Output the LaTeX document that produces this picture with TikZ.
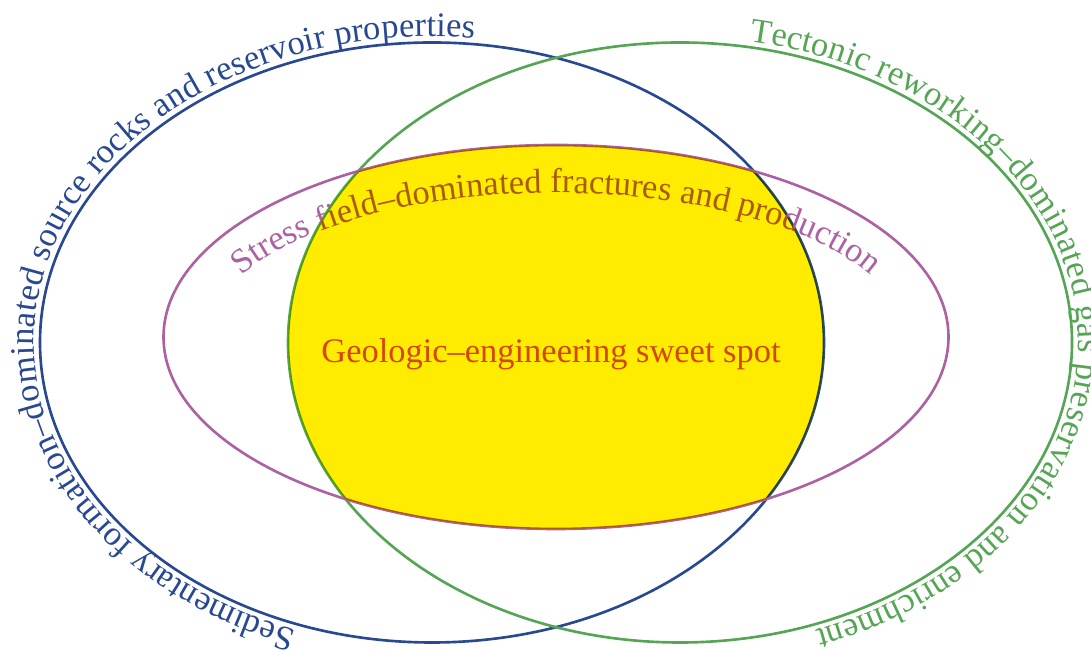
\documentclass[tikz,border=0pt]{standalone}
\usepackage{fontspec}
\setmainfont{Liberation Serif}
\usetikzlibrary{decorations.text}

\definecolor{sedblue}{RGB}{40,72,145}
\definecolor{tecgreen}{RGB}{85,165,85}
\definecolor{strpurple}{RGB}{172,98,162}
\definecolor{sweetyellow}{RGB}{255,236,0}
\definecolor{sweetred}{RGB}{215,70,0}

\begin{document}
\begin{tikzpicture}[
	ring/.style = {line width=1.5pt},
	rimtext/.style = {decorate, decoration={text along path, text align=left, raise=#1}},
	bigfont/.style = {font=\fontsize{19.6}{24}\selectfont}]
	
	\useasboundingbox (0,0) rectangle (21.82,13);
	
	% Centres of the three sets
	\coordinate (sed) at (8.64,6.15);
	\coordinate (tec) at (13.6,6.15);
	\coordinate (str) at (11.12,6.26);
	
	% The three sets
	\draw[sedblue, ring] (sed) ellipse (7.84cm and 6cm);
	\draw[tecgreen, ring] (tec) ellipse (7.84cm and 6cm);
	\draw[strpurple, ring] (str) ellipse (7.85cm and 3.84cm);
	
	% Labels along the rims
	\path[rimtext=0.12cm, decoration={text color=sedblue,
		text={|\fontsize{19.6}{24}\selectfont|Sedimentary formation–dominated source rocks and reservoir properties}}]
		(sed) ++(250:7.84cm and 6cm) arc [start angle=250, end angle=50, x radius=7.84cm, y radius=6cm];
	
	\path[rimtext=0.12cm, decoration={text color=tecgreen,
		text={|\fontsize{19.6}{24}\selectfont|Tectonic reworking–dominated gas preservation and enrichment}}]
		(tec) ++(80:7.84cm and 6cm) arc [start angle=80, end angle=-120, x radius=7.84cm, y radius=6cm];
	
	% inner label runs on a flatter ellipse just inside the rim
	\path[rimtext=0pt, decoration={text color=strpurple, text align=center,
		text={|\fontsize{19.6}{24}\selectfont|Stress field–dominated fractures and production}}]
		(str) ++(180:6.95cm and 2.88cm) arc [start angle=180, end angle=0, x radius=6.95cm, y radius=2.88cm];
	
	% Sweet spot: where all three sets meet
	\begin{scope}[blend mode=multiply]
		\clip (sed) ellipse (7.84cm and 6cm);
		\clip (tec) ellipse (7.84cm and 6cm);
		\fill[sweetyellow] (str) ellipse (7.85cm and 3.84cm);
	\end{scope}
	
	\node[bigfont, text=sweetred, anchor=base] (sweet) at (11.02,5.74) {Geologic–engineering sweet spot};
	
\end{tikzpicture}
\end{document}
